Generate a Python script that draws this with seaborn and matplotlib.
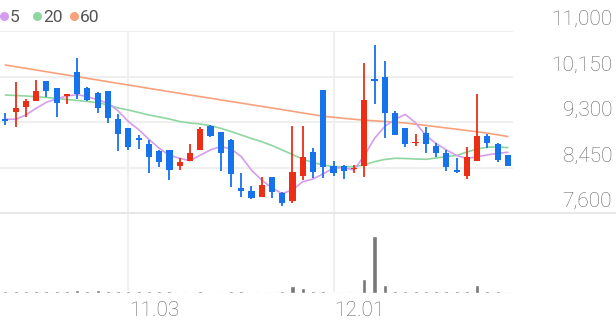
import matplotlib
matplotlib.use("Agg")
import matplotlib.pyplot as plt
from matplotlib.lines import Line2D
import seaborn as sns
import numpy as np
import pandas as pd

# ---------------- data ----------------
opens = [9356, 9481, 9575, 9692, 10072, 9941, 9786, 10229, 9941, 9848,
         9885, 9351, 9182, 8996, 8884, 8764, 8777, 8478, 8572, 8777,
         9231, 9108, 8964, 8073, 8017, 7905, 8267, 7980, 7830, 8291,
         8745, 9898, 8478, 8478, 8417, 8478, 10098, 10135, 9463, 9182,
         8902, 9089, 8852, 8727, 8403, 8291, 8577, 9039, 8884, 8684]
highs = [9468, 10053, 9724, 10085, 10072, 9941, 9818, 10490, 9960, 9866,
         9885, 9450, 9194, 9057, 8964, 8777, 8777, 8633, 8884, 9201,
         9244, 9119, 8977, 8353, 8105, 8267, 8278, 7987, 9225, 9225,
         8809, 9898, 8577, 8497, 8497, 10397, 10738, 10440, 9511, 9182,
         9076, 9201, 8902, 8777, 8622, 8828, 9818, 9076, 8902, 8684]
lows = [9244, 9212, 9399, 9692, 9773, 9388, 9636, 9730, 9692, 9463,
        9287, 8764, 8777, 8796, 8353, 8465, 8216, 8403, 8572, 8777,
        9026, 8390, 8080, 7905, 7862, 7905, 7875, 7731, 7781, 8216,
        8248, 8260, 8291, 8235, 8342, 8278, 9636, 8996, 9057, 8828,
        8852, 8727, 8652, 8390, 8342, 8230, 8577, 8809, 8547, 8478]
closes = [9319, 9556, 9692, 9885, 9885, 9649, 9818, 9818, 9711, 9556,
          9369, 9076, 8828, 8964, 8641, 8547, 8403, 8558, 8727, 9164,
          9039, 8727, 8329, 8017, 7886, 8123, 7987, 7793, 8372, 8652,
          8372, 8465, 8353, 8390, 8441, 9711, 10072, 9474, 9057, 8889,
          8932, 8889, 8727, 8454, 8372, 8652, 9039, 8914, 8590, 8478]
prior_closes = [9556, 9292, 9260, 9328]
ma20 = [9804, 9795, 9786, 9773, 9758, 9743, 9720, 9702, 9683, 9661,
        9618, 9562, 9524, 9478, 9431, 9394, 9356, 9309, 9281, 9263,
        9231, 9182, 9123, 9057, 8992, 8932, 8861, 8777, 8693, 8603,
        8544, 8497, 8465, 8465, 8465, 8497, 8559, 8600, 8622, 8618,
        8609, 8603, 8628, 8656, 8674, 8740, 8796, 8828, 8837, 8820]
ma60 = [10365, 10333, 10303, 10271, 10240, 10208, 10178, 10146, 10115, 10085,
        10053, 10021, 9991, 9960, 9928, 9898, 9866, 9836, 9804, 9775,
        9745, 9713, 9683, 9653, 9622, 9592, 9562, 9531, 9500, 9468,
        9438, 9408, 9388, 9369, 9351, 9334, 9323, 9310, 9296, 9281,
        9259, 9237, 9212, 9188, 9166, 9141, 9117, 9091, 9061, 9029]
volumes = [50000, 60000, 50000, 70000, 50000, 50000, 50000, 105000, 60000, 85000,
           60000, 60000, 60000, 60000, 50000, 50000, 50000, 45000, 45000, 60000,
           45000, 45000, 50000, 50000, 45000, 45000, 45000, 50000, 201000, 159000,
           60000, 50000, 45000, 45000, 45000, 429000, 1710000, 249000, 70000, 50000,
           50000, 50000, 50000, 50000, 50000, 60000, 249000, 50000, 50000, 8000]
tick_pos = [12, 32]
tick_labels = ["11.03", "12.01"]
y_ticks = [7600, 8450, 9300, 10150, 11000]
legend_periods = ["5", "20", "60"]

# ---------------- style ----------------
sns.set_theme(style="white")
plt.rcParams["font.family"] = ["Roboto", "DejaVu Sans"]

RED = "#ec2f14"
BLUE = "#1673ec"
C_MA5 = "#d69cf0"
C_MA20 = "#8fd6a0"
C_MA60 = "#f7a27c"
GRID = "#eeeeee"
TXT = "#666666"

W, H = 616, 321
fig = plt.figure(figsize=(W / 100, H / 100), dpi=100)
ax = fig.add_axes([0, (H - 213) / H, 513 / W, (213 - 31) / H])
axv = fig.add_axes([0, (H - 293) / H, 513 / W, (293 - 213) / H])

n = len(closes)
idx = np.arange(n)
df = pd.DataFrame({"i": idx, "open": opens, "high": highs, "low": lows,
                   "close": closes, "ma20": ma20, "ma60": ma60, "vol": volumes})
full = pd.Series(prior_closes + closes, dtype=float)
df["ma5"] = full.rolling(5).mean().iloc[len(prior_closes):].values

# MA lines
sns.lineplot(data=df, x="i", y="ma60", ax=ax, color=C_MA60, lw=1.2, zorder=2)
sns.lineplot(data=df, x="i", y="ma20", ax=ax, color=C_MA20, lw=1.2, zorder=2)
sns.lineplot(data=df, x="i", y="ma5", ax=ax, color=C_MA5, lw=1.2, zorder=2)

# candles
up = df["close"] >= df["open"]
cols = np.where(up, RED, BLUE)
ax.vlines(df["i"], df["low"], df["high"], colors=cols, lw=1.3, zorder=3)
bottoms = np.minimum(df["open"], df["close"])
heights = np.maximum(np.abs(df["close"] - df["open"]), 28)
ax.bar(df["i"], heights, bottom=bottoms, width=0.6, color=cols, linewidth=0, zorder=4)

ax.set_xlim(-0.52, n - 0.5)
ax.set_ylim(7600, 11000)
ax.set_yticks(y_ticks)
ax.set_xticks(tick_pos)
ax.grid(True, color=GRID, lw=1.3)
ax.set_axisbelow(True)
ax.tick_params(left=False, labelleft=False, bottom=False, labelbottom=False)
ax.set_xlabel("")
ax.set_ylabel("")
for s in ax.spines.values():
    s.set_visible(False)

for v in y_ticks:
    ax.annotate(f"{v:,}", xy=(1, v), xycoords=("axes fraction", "data"),
                xytext=(99, 6), textcoords="offset pixels", ha="right",
                va="baseline", fontsize=15, color=TXT, fontweight="light",
                annotation_clip=False)

# volume
sns.barplot(data=df, x="i", y="vol", ax=axv, native_scale=True, color="#777777",
            saturation=1, width=0.4, errorbar=None, zorder=3)
axv.set_xlim(-0.52, n - 0.5)
axv.set_ylim(0, max(volumes) * 80 / 57)
axv.set_xticks(tick_pos)
axv.set_yticks([])
axv.grid(True, axis="x", color=GRID, lw=1.3)
axv.set_axisbelow(True)
axv.axhline(0, color="#e6e6e6", lw=1.0, zorder=2)
axv.tick_params(left=False, labelleft=False, bottom=False, labelbottom=False)
axv.set_xlabel("")
axv.set_ylabel("")
for s in axv.spines.values():
    s.set_visible(False)

for p, lab in zip(tick_pos, tick_labels):
    axv.annotate(lab, xy=(p, 0), xycoords=("data", "axes fraction"),
                 xytext=(1, -23), textcoords="offset pixels", ha="left",
                 va="baseline", fontsize=15, color=TXT, fontweight="light",
                 annotation_clip=False)

# separator line between panels (full width)
fig.add_artist(Line2D([0, 1], [(H - 213) / H] * 2, transform=fig.transFigure,
                      color="#e6e6e6", lw=1.3))

# legend
leg_colors = [C_MA5, C_MA20, C_MA60]
dot_x = [4, 37, 74]
txt_x = [10, 43, 80]
for c, dx, tx, lab in zip(leg_colors, dot_x, txt_x, legend_periods):
    fig.add_artist(Line2D([dx / W], [1 - 16 / H], transform=fig.transFigure,
                          marker="o", markersize=5.5, color=c, lw=0))
    fig.text(tx / W, 1 - 22 / H, lab, fontsize=12.5, color="#555555",
             ha="left", va="baseline")

fig.savefig("out.png", dpi=100)
